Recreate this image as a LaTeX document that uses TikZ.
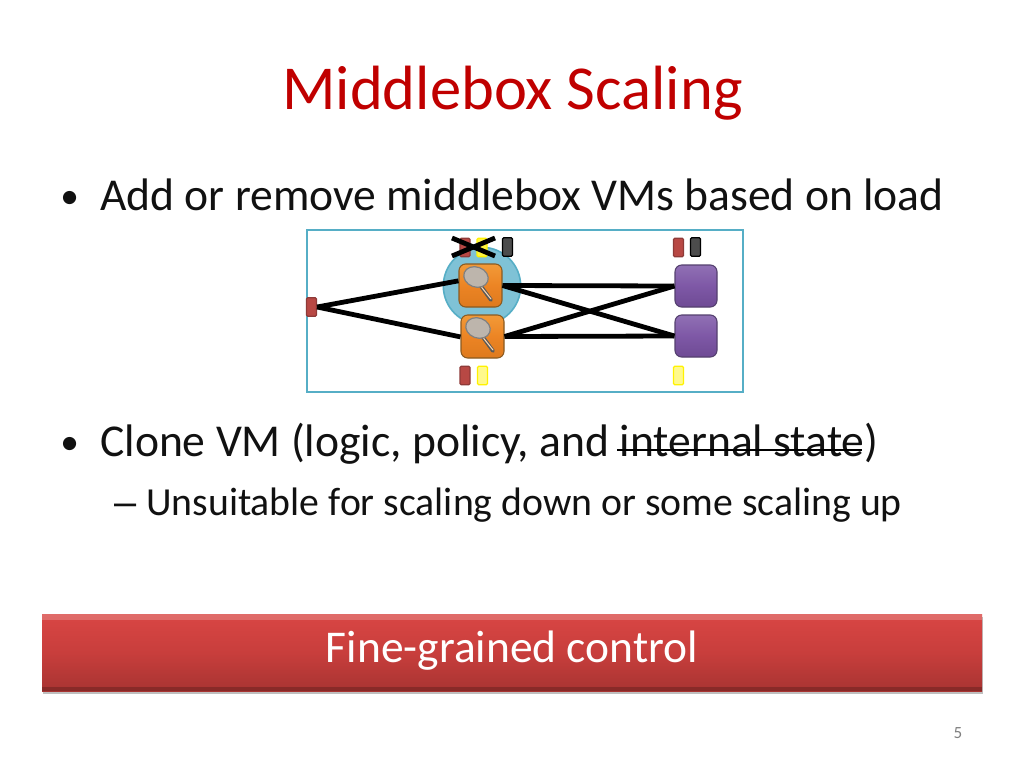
\documentclass[tikz,border=0pt]{standalone}
\usepackage{fontspec}
\setmainfont{Carlito}
\newfontfamily\dashfont{Liberation Sans}
\usetikzlibrary{shadows}
\definecolor{titlered}{HTML}{C00000}
\definecolor{frame}{HTML}{56AEC6}
\definecolor{halocol}{HTML}{7FC2D6}
\definecolor{bodytext}{HTML}{111111}
\definecolor{ortop}{HTML}{F29A38}
\definecolor{ormid}{HTML}{EC8424}
\definecolor{orbot}{HTML}{DE7A1E}
\definecolor{ordraw}{HTML}{8A5A20}
\definecolor{putop}{HTML}{9070B4}
\definecolor{pumid}{HTML}{7E58A6}
\definecolor{pubot}{HTML}{6E4A94}
\definecolor{pudraw}{HTML}{54406E}
\definecolor{bartop}{HTML}{D94644}
\definecolor{barmid}{HTML}{C83E3C}
\definecolor{barbot}{HTML}{A83432}
\definecolor{portred}{HTML}{B84844}
\definecolor{portreddraw}{HTML}{8E3A38}
\definecolor{lensfill}{HTML}{BDB5AC}
\tikzset{
 x=0.75pt,y=-0.75pt,
 txt/.style={inner sep=0pt,anchor=base west,text=bodytext},
 link/.style={draw=black,line width=3.6pt},
 orangebox/.style={minimum width=32.25pt,minimum height=32.25pt,inner sep=0pt,rounded corners=5pt,draw=ordraw,line width=.8pt,top color=ortop,bottom color=orbot,middle color=ormid},
 purplebox/.style={minimum width=31.5pt,minimum height=31.5pt,inner sep=0pt,rounded corners=5pt,draw=pudraw,line width=.8pt,top color=putop,bottom color=pubot,middle color=pumid},
 port/.style={minimum width=7.5pt,minimum height=14pt,inner sep=0pt,rounded corners=1pt,line width=.9pt},
 redport/.style={port,fill=portred,draw=portreddraw},
 yellowport/.style={port,fill=yellow!75!white,draw=yellow},
 blackport/.style={port,fill=black!70,draw=black},
}
\newcommand{\lens}[2]{%
 \draw[line width=2.8pt,line cap=round,draw=black!65] (#1+16,#2+14) -- (#1+32,#2+36);
 \draw[line width=.8pt,line cap=round,draw=white!70!orange] (#1+20,#2+20) -- (#1+32,#2+35);
 \fill[lensfill,draw=black!50,line width=.9pt,rotate around={-20:(#1+17,#2+13)}] (#1+17,#2+13) ellipse [x radius=12.5,y radius=10];
}
\begin{document}
\begin{tikzpicture}
\useasboundingbox (0,0) rectangle (1024,768);
\fill[white] (0,0) rectangle (1024,768);
\node[inner sep=0pt,anchor=base,text=titlered,font=\fontsize{46.9}{54}\selectfont] (title) at (512.5,109) {Middlebox Scaling};
\node[txt,font=\fontsize{28}{34}\selectfont] (b1) at (60,208) {•};
\node[txt,font=\fontsize{34.2}{40}\selectfont] (t1) at (100,210) {Add or remove middlebox VMs based on load};
\node[txt,font=\fontsize{28}{34}\selectfont] (b2) at (60,454) {•};
\node[txt,font=\fontsize{34.2}{40}\selectfont] (t2) at (100,456) {Clone VM (logic, policy, and internal state)};
\coordinate (s1) at (617,450); \coordinate (s2) at (862,450);
\draw[black,line width=2.2pt] (s1) -- (s2);
\node[txt,font=\dashfont\fontsize{29.8}{35}\selectfont] (d) at (114,515) {–};
\node[txt,font=\fontsize{29.8}{35}\selectfont] (t3) at (146,515) {Unsuitable for scaling down or some scaling up};

% diagram
\draw[frame,line width=2.2pt,fill=white] (307,230) rectangle (743,392);
\node[circle,minimum size=58pt,inner sep=0pt,fill=halocol,draw=frame,line width=1.2pt] (halo) at (482,286) {};
\node[orangebox] (o1) at (480.5,285.5) {};
\node[orangebox] (o2) at (482.5,336.5) {};
\node[purplebox] (p1) at (696,286) {};
\node[purplebox] (p2) at (696,336) {};
\lens{459}{264}
\lens{461}{315}
\node[redport] (src) at (311.5,307) {};
\node[redport] (rt) at (465,247.5) {};
\node[yellowport] (yt) at (482,247.5) {};
\node[blackport] (kt) at (507.5,247) {};
\node[redport] (rb) at (465,375.5) {};
\node[yellowport,fill=yellow!45!white] (yb) at (482.5,375.5) {};
\node[redport] (rr) at (678.5,247.5) {};
\node[blackport] (kr) at (695.5,247) {};
\node[yellowport,fill=yellow!45!white] (yr) at (678.5,375.5) {};
\draw[link] (src.east) -- ([yshift=3.5pt]o1.west);
\draw[link] (src.east) -- ([yshift=-0.3pt]o2.west);
\draw[link] (o1.east) -- (p1.west);
\draw[link] (o1.east) -- (p2.west);
\draw[link] (o2.east) -- (p1.west);
\draw[link] (o2.east) -- (p2.west);
\coordinate (x1) at (452,238); \coordinate (x2) at (495,256);
\coordinate (x3) at (452,256); \coordinate (x4) at (495,238);
\draw[link] (x1) -- (x2);
\draw[link] (x3) -- (x4);

% bar
\fill[black!25] (43,617) rectangle (983,694);
\node[minimum width=705pt,minimum height=57.75pt,inner sep=0pt,top color=bartop,bottom color=barbot,middle color=barmid] (bar) at (512,652.5) {};
\fill[white,opacity=.2] (42,614) rectangle (982,620);
\fill[black,opacity=.2] (42,687) rectangle (982,691);
\node[inner sep=0pt,anchor=base,text=white,font=\fontsize{34.1}{40}\selectfont] (ctl) at (512,662) {Fine-grained control};
\node[inner sep=0pt,text=black!50,font=\fontsize{12.8}{15}\selectfont] (num) at (958,733) {5};
\end{tikzpicture}
\end{document}
